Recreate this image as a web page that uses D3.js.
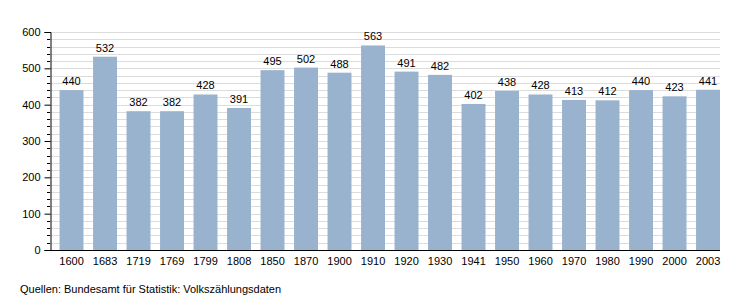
<!DOCTYPE html>
<html>
<head>
<meta charset="utf-8">
<script src="https://cdn.jsdelivr.net/npm/d3@7"></script>
<style>
  body { margin: 0; background: #fff; }
  text { font-family: "Liberation Sans", Arial, sans-serif; }
</style>
</head>
<body>
<div id="chart-area"></div>
<script>
// Einwohner nach Jahr
var years = ['1600', '1683', '1719', '1769', '1799', '1808', '1850', '1870', '1900', '1910',
             '1920', '1930', '1941', '1950', '1960', '1970', '1980', '1990', '2000', '2003']
var population = [440, 532, 382, 382, 428, 391, 495, 502, 488, 563,
                  491, 482, 402, 438, 428, 413, 412, 440, 423, 441]
var yTicks = [0, 100, 200, 300, 400, 500, 600]
var source = 'Quellen: Bundesamt für Statistik: Volkszählungsdaten'

var width = 750
var height = 300
var plotLeft = 50, plotRight = 720, plotTop = 32, plotBottom = 250

var svg = d3.select('#chart-area')
    .append('svg')
        .attr('width', width)
        .attr('height', height)

// Y Scale
var y = d3.scaleLinear()
    .domain([0, 600])
    .range([plotBottom, plotTop])

// X Scale
var x = d3.scaleBand()
    .domain(years)
    .range([plotLeft, plotRight])
    .padding(0)

var barOffset = x.step() * 0.285
var barWidth = x.step() - barOffset

// grid lines (every 20)
svg.append('g')
    .selectAll('line')
    .data(d3.range(20, 601, 20))
    .enter()
    .append('line')
        .attr('x1', plotLeft)
        .attr('x2', plotRight)
        .attr('y1', d => Math.round(y(d)) + 0.5)
        .attr('y2', d => Math.round(y(d)) + 0.5)
        .attr('stroke', '#dcdcdc')
        .attr('stroke-width', 1)

// bars
svg.append('g')
    .selectAll('rect')
    .data(population)
    .enter()
    .append('rect')
        .attr('x', (d, i) => x(years[i]) + barOffset)
        .attr('width', barWidth)
        .attr('y', d => y(d))
        .attr('height', d => y(0) - y(d))
        .attr('fill', '#99b3cf')

// value labels
svg.append('g')
    .selectAll('text')
    .data(population)
    .enter()
    .append('text')
        .attr('x', (d, i) => x(years[i]) + barOffset + barWidth / 2)
        .attr('y', d => y(d) - 5)
        .attr('text-anchor', 'middle')
        .attr('font-size', '11px')
        .attr('fill', '#000')
        .text(d => d)

// Y Axis
var yAxisCall = d3.axisLeft(y)
    .tickValues(yTicks)
    .tickSize(6)
    .tickPadding(4)
var yAxisGroup = svg.append('g')
    .attr('transform', `translate(${plotLeft + 0.5}, 0)`)
    .call(yAxisCall)
yAxisGroup.select('.domain').attr('stroke', '#000')
yAxisGroup.selectAll('.tick text')
    .attr('font-size', '11px')
    .attr('font-family', '"Liberation Sans", Arial, sans-serif')
    .attr('fill', '#000')

// minor ticks
svg.append('g')
    .selectAll('line')
    .data(d3.range(20, 600, 20).filter(d => d % 100 !== 0))
    .enter()
    .append('line')
        .attr('x1', plotLeft - 3)
        .attr('x2', plotLeft)
        .attr('y1', d => Math.round(y(d)) + 0.5)
        .attr('y2', d => Math.round(y(d)) + 0.5)
        .attr('stroke', '#000')

// X Axis
var xAxisCall = d3.axisBottom(x)
    .tickSize(0)
    .tickPadding(7)
var xAxisGroup = svg.append('g')
    .attr('transform', `translate(${barOffset / 2}, ${plotBottom + 0.5})`)
    .call(xAxisCall)
xAxisGroup.select('.domain').remove()
xAxisGroup.selectAll('.tick text')
    .attr('font-size', '11px')
    .attr('font-family', '"Liberation Sans", Arial, sans-serif')
    .attr('fill', '#000')

// baseline
svg.append('line')
    .attr('x1', plotLeft)
    .attr('x2', plotRight)
    .attr('y1', plotBottom + 0.5)
    .attr('y2', plotBottom + 0.5)
    .attr('stroke', '#000')

// source
svg.append('text')
    .attr('x', 20)
    .attr('y', 293)
    .attr('font-size', '11px')
    .attr('fill', '#000')
    .text(source)
</script>
</body>
</html>
